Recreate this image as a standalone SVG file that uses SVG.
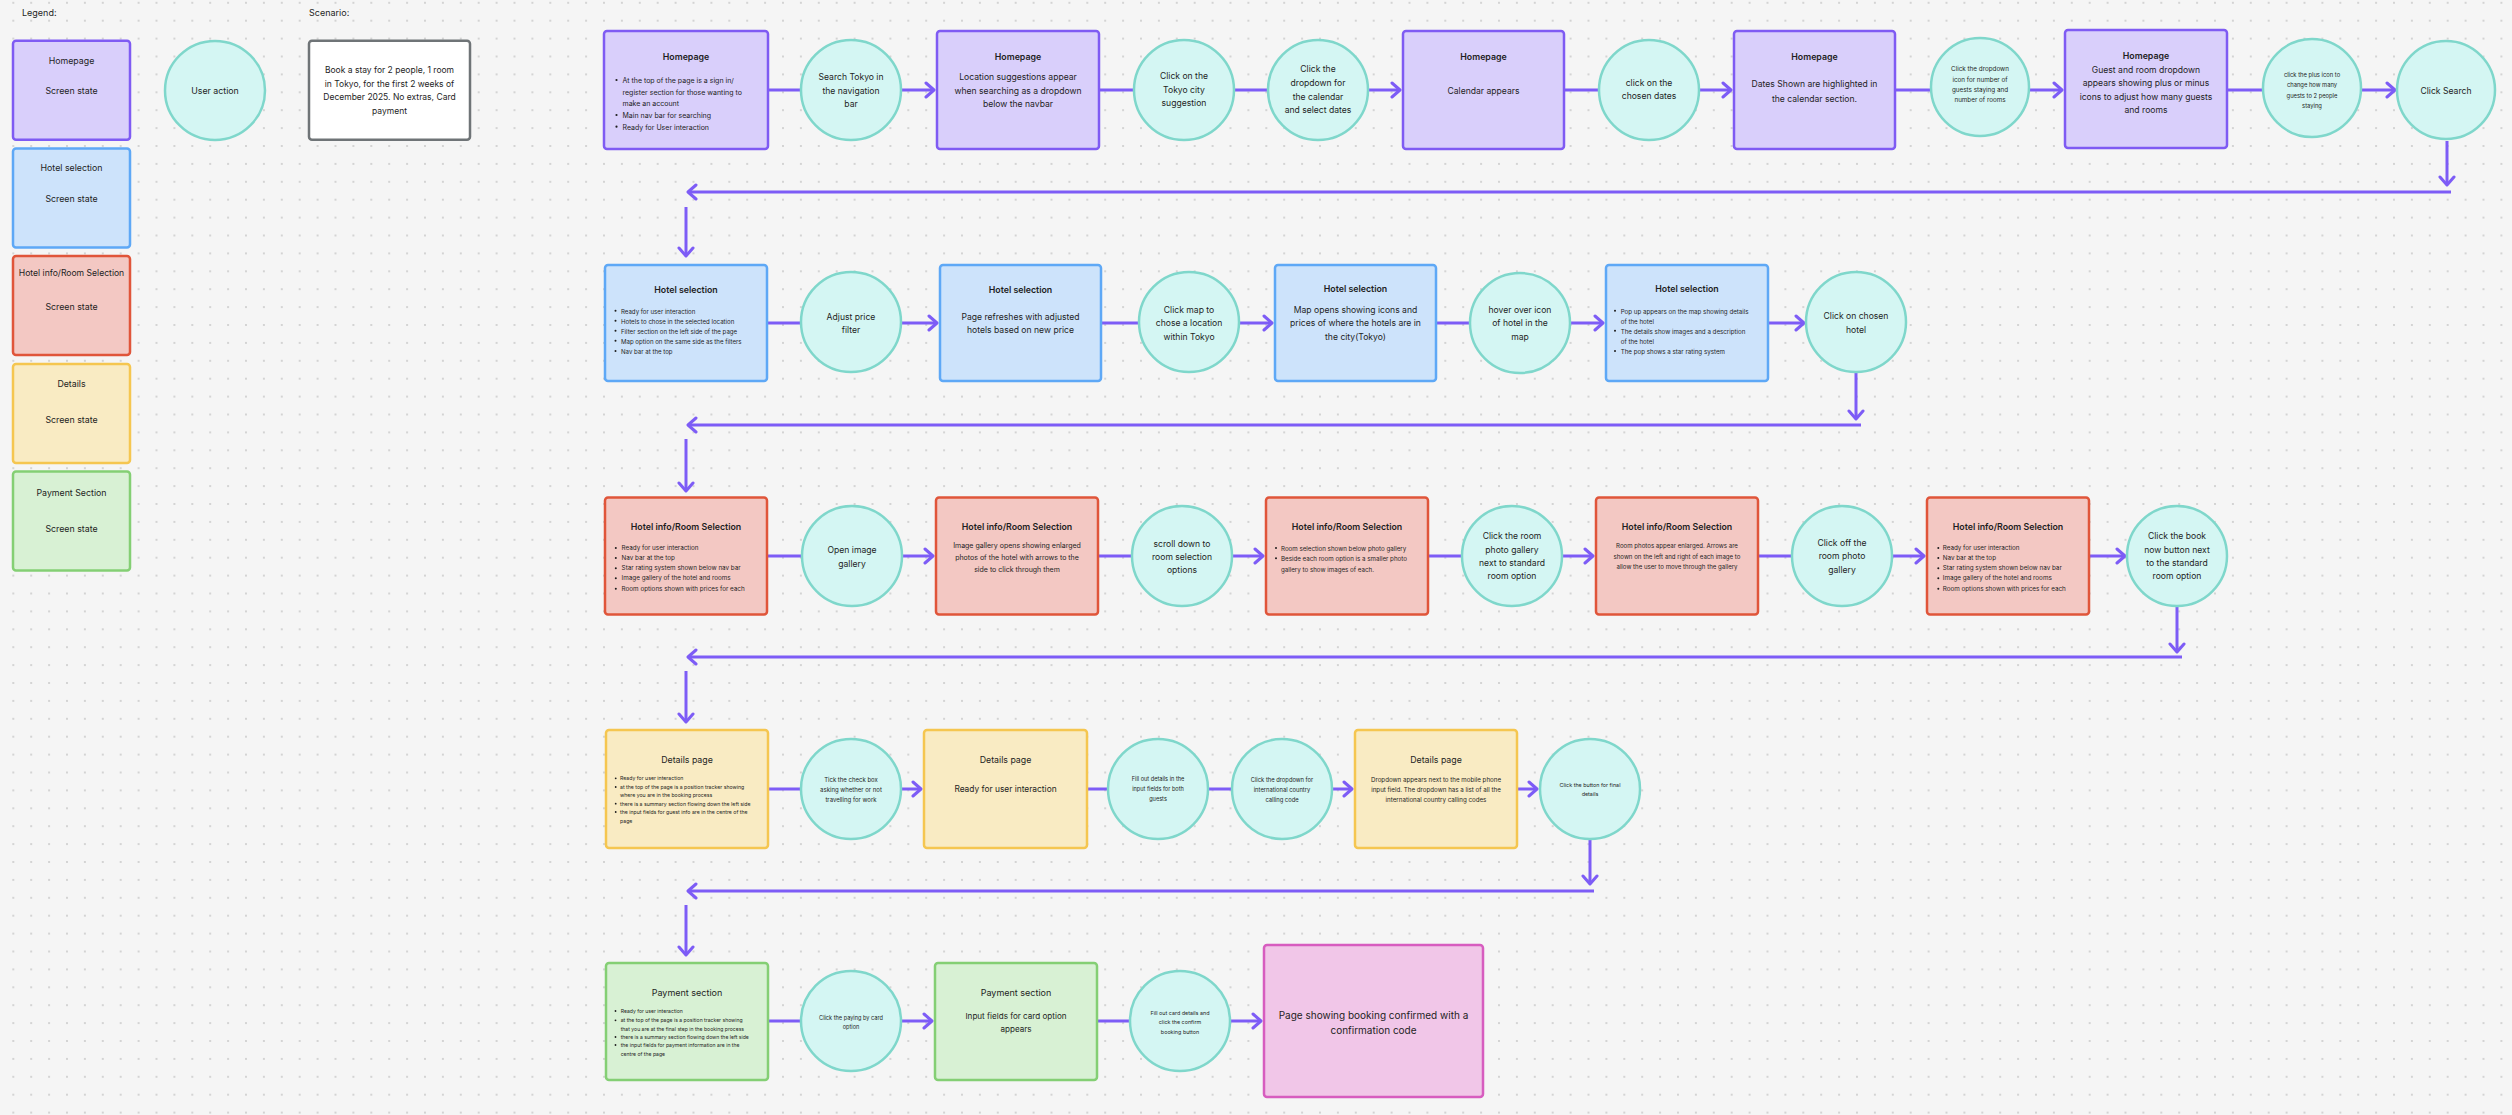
<svg xmlns="http://www.w3.org/2000/svg" width="2512" height="1115" viewBox="0 0 2512 1115">
<defs>
<pattern id="dots" patternUnits="userSpaceOnUse" x="4.35" y="11.75" width="17.9" height="17.9"><circle cx="8.95" cy="8.95" r="0.9" fill="#c4c4c4"/></pattern>
<marker id="ah" markerUnits="userSpaceOnUse" markerWidth="12" markerHeight="18" viewBox="-10 -9 12 18" refX="0" refY="0" orient="auto"><path d="M-8,-7 L0,0 L-8,7" fill="none" stroke="#7d5cf6" stroke-width="3" stroke-linecap="round" stroke-linejoin="round"/></marker>
</defs>
<style>
text{font-family:Inter,"Noto Sans","Liberation Sans",sans-serif;fill:#1e1e1e;dominant-baseline:central}
.c{text-anchor:middle}
.b{font-weight:600}
.hp{fill:#d9cffb;stroke:#7f5bf3;stroke-width:2.5}
.hs{fill:#cde3fb;stroke:#5ea8f6;stroke-width:2.5}
.hi{fill:#f3c8c3;stroke:#e0553a;stroke-width:2.5}
.dt{fill:#f9ebc3;stroke:#f5c650;stroke-width:2.5}
.pm{fill:#d8f1d4;stroke:#84cf74;stroke-width:2.5}
.ua{fill:#d4f6f3;stroke:#7fd7cb;stroke-width:2.5}
.cf{fill:#f1c6e8;stroke:#d75cbf;stroke-width:2.5}
.sc{fill:#ffffff;stroke:#6f7477;stroke-width:2.5}
.con path{stroke:#7d5cf6;stroke-width:3;fill:none}
.bl{fill:#1e1e1e}
</style>
<rect width="2512" height="1115" fill="#f5f5f5"/>
<rect width="2512" height="1115" fill="url(#dots)"/>

<!-- Legend -->
<g id="legend">
<text x="22" y="12" font-size="9">Legend:</text>
<text x="309" y="12" font-size="9">Scenario:</text>
</g>
<g id="legend-homepage"><rect class="hp" x="13" y="40.7" width="117" height="99" rx="3"/><text class="c" x="71.5" y="60.4" font-size="8.8">Homepage</text><text class="c" x="71.5" y="90.7" font-size="8.8">Screen state</text></g>
<g id="legend-hotel-selection"><rect class="hs" x="13" y="148.5" width="117" height="99" rx="3"/><text class="c" x="71.5" y="167.8" font-size="8.8">Hotel selection</text><text class="c" x="71.5" y="198" font-size="8.8">Screen state</text></g>
<g id="legend-hotel-info"><rect class="hi" x="13" y="256" width="117" height="99" rx="3"/><text class="c" x="71.5" y="273.3" font-size="8.6">Hotel info/Room Selection</text><text class="c" x="71.5" y="306" font-size="8.8">Screen state</text></g>
<g id="legend-details"><rect class="dt" x="13" y="364" width="117" height="99" rx="3"/><text class="c" x="71.5" y="383.3" font-size="8.8">Details</text><text class="c" x="71.5" y="419.3" font-size="8.8">Screen state</text></g>
<g id="legend-payment"><rect class="pm" x="13" y="471.5" width="117" height="99" rx="3"/><text class="c" x="71.5" y="492.2" font-size="8.8">Payment Section</text><text class="c" x="71.5" y="528.1" font-size="8.8">Screen state</text></g>
<g id="legend-user-action"><ellipse class="ua" cx="215" cy="90.4" rx="50" ry="49.5"/><text class="c" x="215" y="90.7" font-size="8.8">User action</text></g>
<g id="scenario"><rect class="sc" x="309" y="40.7" width="161" height="99" rx="3"/>
<text class="c" font-size="8.5"><tspan x="389.5" y="70.4">Book a stay for 2 people, 1 room</tspan><tspan x="389.5" y="83.7">in Tokyo, for the first 2 weeks of</tspan><tspan x="389.5" y="97">December 2025. No extras, Card</tspan><tspan x="389.5" y="111.1">payment</tspan></text></g>

<!-- Connectors -->
<g id="connectors" class="con">
<path d="M768,90 H801"/>
<path d="M901,90 H934" marker-end="url(#ah)"/>
<path d="M1099,90 H1134"/>
<path d="M1234,90 H1268"/>
<path d="M1368,90 H1400" marker-end="url(#ah)"/>
<path d="M1564,90 H1599"/>
<path d="M1699,90 H1731" marker-end="url(#ah)"/>
<path d="M1895,90 H1931"/>
<path d="M2029,90 H2062" marker-end="url(#ah)"/>
<path d="M2227,90 H2263"/>
<path d="M2361,90 H2395" marker-end="url(#ah)"/>
<path d="M767,323 H801"/>
<path d="M902,323 H937" marker-end="url(#ah)"/>
<path d="M1101,323 H1139"/>
<path d="M1239,323 H1272" marker-end="url(#ah)"/>
<path d="M1436,323 H1470"/>
<path d="M1570,323 H1603" marker-end="url(#ah)"/>
<path d="M1768,323 H1804" marker-end="url(#ah)"/>
<path d="M767,556 H802"/>
<path d="M902,556 H933" marker-end="url(#ah)"/>
<path d="M1098,556 H1132"/>
<path d="M1232,556 H1263" marker-end="url(#ah)"/>
<path d="M1428,556 H1462"/>
<path d="M1562,556 H1593" marker-end="url(#ah)"/>
<path d="M1758,556 H1792"/>
<path d="M1892,556 H1924" marker-end="url(#ah)"/>
<path d="M2089,556 H2125" marker-end="url(#ah)"/>
<path d="M768,789 H801"/>
<path d="M901,789 H921" marker-end="url(#ah)"/>
<path d="M1087,789 H1108"/>
<path d="M1208,789 H1232"/>
<path d="M1332,789 H1352" marker-end="url(#ah)"/>
<path d="M1517,789 H1537" marker-end="url(#ah)"/>
<path d="M768,1021 H801"/>
<path d="M901,1021 H932" marker-end="url(#ah)"/>
<path d="M1097,1021 H1130"/>
<path d="M1230,1021 H1261" marker-end="url(#ah)"/>
<path d="M2447,141 V185" marker-end="url(#ah)"/>
<path d="M2451,192 H688" marker-end="url(#ah)"/>
<path d="M686,207 V256" marker-end="url(#ah)"/>
<path d="M1856,373 V419" marker-end="url(#ah)"/>
<path d="M1861,425 H688" marker-end="url(#ah)"/>
<path d="M686,439 V491" marker-end="url(#ah)"/>
<path d="M2177,607 V652" marker-end="url(#ah)"/>
<path d="M2182,657 H688" marker-end="url(#ah)"/>
<path d="M686,671 V722" marker-end="url(#ah)"/>
<path d="M1590,840 V884" marker-end="url(#ah)"/>
<path d="M1594,891 H688" marker-end="url(#ah)"/>
<path d="M686,905 V955" marker-end="url(#ah)"/>
</g>

<!-- Row 1 -->
<g id="hp1"><rect class="hp" x="604" y="31" width="164" height="118" rx="3"/>
<text class="c b" x="686" y="56" font-size="8.8">Homepage</text>
<circle class="bl" cx="616.5" cy="80" r="1.1"/><circle class="bl" cx="616.5" cy="115" r="1.1"/><circle class="bl" cx="616.5" cy="126.7" r="1.1"/>
<text font-size="7"><tspan x="622.5" y="80">At the top of the page is a sign in/</tspan><tspan x="622.5" y="91.7">register section for those wanting to</tspan><tspan x="622.5" y="103">make an account</tspan><tspan x="622.5" y="115">Main nav bar for searching</tspan><tspan x="622.5" y="126.7">Ready for User interaction</tspan></text></g>
<g id="a1"><circle class="ua" cx="851" cy="90" r="50"/>
<text class="c" font-size="8.6"><tspan x="851" y="77.3">Search Tokyo in</tspan><tspan x="851" y="90.7">the navigation</tspan><tspan x="851" y="104">bar</tspan></text></g>
<g id="hp2"><rect class="hp" x="937" y="31" width="162" height="118" rx="3"/>
<text class="c b" x="1018" y="56" font-size="8.8">Homepage</text>
<text class="c" font-size="8.6"><tspan x="1018" y="77.3">Location suggestions appear</tspan><tspan x="1018" y="90.7">when searching as a dropdown</tspan><tspan x="1018" y="104">below the navbar</tspan></text></g>
<g id="a2"><circle class="ua" cx="1184" cy="90" r="50"/>
<text class="c" font-size="8.6"><tspan x="1184" y="76">Click on the</tspan><tspan x="1184" y="90">Tokyo city</tspan><tspan x="1184" y="103">suggestion</tspan></text></g>
<g id="a3"><circle class="ua" cx="1318" cy="90" r="50"/>
<text class="c" font-size="8.6"><tspan x="1318" y="69.3">Click the</tspan><tspan x="1318" y="83">dropdown for</tspan><tspan x="1318" y="96.7">the calendar</tspan><tspan x="1318" y="110">and select dates</tspan></text></g>
<g id="hp3"><rect class="hp" x="1403" y="31" width="161" height="118" rx="3"/>
<text class="c b" x="1483.5" y="56" font-size="8.8">Homepage</text>
<text class="c" x="1483.5" y="91" font-size="8.6">Calendar appears</text></g>
<g id="a4"><circle class="ua" cx="1649" cy="90" r="50"/>
<text class="c" font-size="8.6"><tspan x="1649" y="83">click on the</tspan><tspan x="1649" y="96.3">chosen dates</tspan></text></g>
<g id="hp4"><rect class="hp" x="1734" y="31" width="161" height="118" rx="3"/>
<text class="c b" x="1814.5" y="56" font-size="8.8">Homepage</text>
<text class="c" font-size="8.6"><tspan x="1814.5" y="84">Dates Shown are highlighted in</tspan><tspan x="1814.5" y="98.7">the calendar section.</tspan></text></g>
<g id="a5"><circle class="ua" cx="1980" cy="87" r="49"/>
<text class="c" font-size="6.3"><tspan x="1980" y="69.3">Click the dropdown</tspan><tspan x="1980" y="80.3">icon for number of</tspan><tspan x="1980" y="90.3">guests staying and</tspan><tspan x="1980" y="100">number of rooms</tspan></text></g>
<g id="hp5"><rect class="hp" x="2065" y="30" width="162" height="118" rx="3"/>
<text class="c b" x="2146" y="55" font-size="8.8">Homepage</text>
<text class="c" font-size="8.6"><tspan x="2146" y="70">Guest and room dropdown</tspan><tspan x="2146" y="83.3">appears showing plus or minus</tspan><tspan x="2146" y="96.7">icons to adjust how many guests</tspan><tspan x="2146" y="110">and rooms</tspan></text></g>
<g id="a6"><circle class="ua" cx="2312" cy="88" r="49"/>
<text class="c" font-size="5.8"><tspan x="2312" y="74">click the plus icon to</tspan><tspan x="2312" y="84.3">change how many</tspan><tspan x="2312" y="94.7">guests to 2 people</tspan><tspan x="2312" y="105">staying</tspan></text></g>
<g id="a7"><circle class="ua" cx="2446" cy="90" r="49"/>
<text class="c" x="2446" y="90.7" font-size="8.6">Click Search</text></g>

<!-- Row 2 -->
<g id="hs1"><rect class="hs" x="605" y="265" width="162" height="116" rx="3"/>
<text class="c b" x="686" y="289" font-size="8.8">Hotel selection</text>
<circle class="bl" cx="615.5" cy="310.7" r="1"/><circle class="bl" cx="615.5" cy="320.7" r="1"/><circle class="bl" cx="615.5" cy="330.7" r="1"/><circle class="bl" cx="615.5" cy="340.7" r="1"/><circle class="bl" cx="615.5" cy="351" r="1"/>
<text font-size="6.1"><tspan x="621" y="310.7">Ready for user interaction</tspan><tspan x="621" y="320.7">Hotels to chose in the selected location</tspan><tspan x="621" y="330.7">Filter section on the left side of the page</tspan><tspan x="621" y="340.7">Map option on the same side as the filters</tspan><tspan x="621" y="351">Nav bar at the top</tspan></text></g>
<g id="b1"><circle class="ua" cx="851" cy="322" r="50"/>
<text class="c" font-size="8.6"><tspan x="851" y="317">Adjust price</tspan><tspan x="851" y="330.3">filter</tspan></text></g>
<g id="hs2"><rect class="hs" x="940" y="265" width="161" height="116" rx="3"/>
<text class="c b" x="1020.5" y="289" font-size="8.8">Hotel selection</text>
<text class="c" font-size="8.6"><tspan x="1020.5" y="317">Page refreshes with adjusted</tspan><tspan x="1020.5" y="330.3">hotels based on new price</tspan></text></g>
<g id="b2"><circle class="ua" cx="1189" cy="322" r="50"/>
<text class="c" font-size="8.6"><tspan x="1189" y="309.7">Click map to</tspan><tspan x="1189" y="323">chose a location</tspan><tspan x="1189" y="337">within Tokyo</tspan></text></g>
<g id="hs3"><rect class="hs" x="1275" y="265" width="161" height="116" rx="3"/>
<text class="c b" x="1355.5" y="288.3" font-size="8.8">Hotel selection</text>
<text class="c" font-size="8.6"><tspan x="1355.5" y="310.3">Map opens showing icons and</tspan><tspan x="1355.5" y="323">prices of where the hotels are in</tspan><tspan x="1355.5" y="337.3">the city(Tokyo)</tspan></text></g>
<g id="b3"><circle class="ua" cx="1520" cy="323" r="50"/>
<text class="c" font-size="8.6"><tspan x="1520" y="309.7">hover over icon</tspan><tspan x="1520" y="323">of hotel in the</tspan><tspan x="1520" y="337">map</tspan></text></g>
<g id="hs4"><rect class="hs" x="1606" y="265" width="162" height="116" rx="3"/>
<text class="c b" x="1687" y="288.3" font-size="8.8">Hotel selection</text>
<circle class="bl" cx="1615" cy="310.7" r="1"/><circle class="bl" cx="1615" cy="330.7" r="1"/><circle class="bl" cx="1615" cy="351" r="1"/>
<text font-size="6.2"><tspan x="1620.7" y="310.7">Pop up appears on the map showing details</tspan><tspan x="1620.7" y="320.7">of the hotel</tspan><tspan x="1620.7" y="330.7">The details show images and a description</tspan><tspan x="1620.7" y="340.7">of the hotel</tspan><tspan x="1620.7" y="351">The pop shows a star rating system</tspan></text></g>
<g id="b4"><circle class="ua" cx="1856" cy="322" r="50"/>
<text class="c" font-size="8.6"><tspan x="1856" y="316.3">Click on chosen</tspan><tspan x="1856" y="329.7">hotel</tspan></text></g>

<!-- Row 3 -->
<g id="hi1"><rect class="hi" x="605" y="497.5" width="162" height="117" rx="3"/>
<text class="c b" x="686" y="526.3" font-size="8.8">Hotel info/Room Selection</text>
<circle class="bl" cx="615.8" cy="548" r="1"/><circle class="bl" cx="615.8" cy="558" r="1"/><circle class="bl" cx="615.8" cy="568.3" r="1"/><circle class="bl" cx="615.8" cy="578.3" r="1"/><circle class="bl" cx="615.8" cy="588.7" r="1"/>
<text font-size="6.3"><tspan x="621.6" y="548">Ready for user interaction</tspan><tspan x="621.6" y="558">Nav bar at the top</tspan><tspan x="621.6" y="568.3">Star rating system shown below nav bar</tspan><tspan x="621.6" y="578.3">Image gallery of the hotel and rooms</tspan><tspan x="621.6" y="588.7">Room options shown with prices for each</tspan></text></g>
<g id="c1"><circle class="ua" cx="852" cy="556" r="50"/>
<text class="c" font-size="8.6"><tspan x="852" y="550.3">Open image</tspan><tspan x="852" y="563.7">gallery</tspan></text></g>
<g id="hi2"><rect class="hi" x="936" y="497.5" width="162" height="117" rx="3"/>
<text class="c b" x="1017" y="526.3" font-size="8.8">Hotel info/Room Selection</text>
<text class="c" font-size="7"><tspan x="1017" y="545.3">Image gallery opens showing enlarged</tspan><tspan x="1017" y="557">photos of the hotel with arrows to the</tspan><tspan x="1017" y="568.7">side to click through them</tspan></text></g>
<g id="c2"><circle class="ua" cx="1182" cy="556" r="50"/>
<text class="c" font-size="8.6"><tspan x="1182" y="543.7">scroll down to</tspan><tspan x="1182" y="557">room selection</tspan><tspan x="1182" y="570.3">options</tspan></text></g>
<g id="hi3"><rect class="hi" x="1266" y="497.5" width="162" height="117" rx="3"/>
<text class="c b" x="1347" y="526.3" font-size="8.8">Hotel info/Room Selection</text>
<circle class="bl" cx="1276" cy="548" r="1"/><circle class="bl" cx="1276" cy="558.3" r="1"/>
<text font-size="6.2"><tspan x="1281" y="548">Room selection shown below photo gallery</tspan><tspan x="1281" y="558.3">Beside each room option is a smaller photo</tspan><tspan x="1281" y="568.7">gallery to show images of each.</tspan></text></g>
<g id="c3"><circle class="ua" cx="1512" cy="556" r="50"/>
<text class="c" font-size="8.6"><tspan x="1512" y="536.3">Click the room</tspan><tspan x="1512" y="549.7">photo gallery</tspan><tspan x="1512" y="563">next to standard</tspan><tspan x="1512" y="576.3">room option</tspan></text></g>
<g id="hi4"><rect class="hi" x="1596" y="497.5" width="162" height="117" rx="3"/>
<text class="c b" x="1677" y="526.3" font-size="8.8">Hotel info/Room Selection</text>
<text class="c" font-size="6.1"><tspan x="1677" y="545.3">Room photos appear enlarged. Arrows are</tspan><tspan x="1677" y="556">shown on the left and right of each image to</tspan><tspan x="1677" y="566.3">allow the user to move through the gallery</tspan></text></g>
<g id="c4"><circle class="ua" cx="1842" cy="556" r="50"/>
<text class="c" font-size="8.6"><tspan x="1842" y="543">Click off the</tspan><tspan x="1842" y="556.3">room photo</tspan><tspan x="1842" y="570.3">gallery</tspan></text></g>
<g id="hi5"><rect class="hi" x="1927" y="497.5" width="162" height="117" rx="3"/>
<text class="c b" x="2008" y="526.3" font-size="8.8">Hotel info/Room Selection</text>
<circle class="bl" cx="1938.3" cy="548" r="1"/><circle class="bl" cx="1938.3" cy="558" r="1"/><circle class="bl" cx="1938.3" cy="568.3" r="1"/><circle class="bl" cx="1938.3" cy="578.3" r="1"/><circle class="bl" cx="1938.3" cy="588.7" r="1"/>
<text font-size="6.3"><tspan x="1942.7" y="548">Ready for user interaction</tspan><tspan x="1942.7" y="558">Nav bar at the top</tspan><tspan x="1942.7" y="568.3">Star rating system shown below nav bar</tspan><tspan x="1942.7" y="578.3">Image gallery of the hotel and rooms</tspan><tspan x="1942.7" y="588.7">Room options shown with prices for each</tspan></text></g>
<g id="c5"><circle class="ua" cx="2177" cy="556" r="50"/>
<text class="c" font-size="8.6"><tspan x="2177" y="536.3">Click the book</tspan><tspan x="2177" y="549.7">now button next</tspan><tspan x="2177" y="563">to the standard</tspan><tspan x="2177" y="576.3">room option</tspan></text></g>

<!-- Row 4 -->
<g id="dt1"><rect class="dt" x="606" y="730" width="162" height="118" rx="3"/>
<text class="c" x="687" y="759.3" font-size="8.8">Details page</text>
<circle class="bl" cx="615.7" cy="778.3" r="0.9"/><circle class="bl" cx="615.7" cy="787" r="0.9"/><circle class="bl" cx="615.7" cy="803.7" r="0.9"/><circle class="bl" cx="615.7" cy="812" r="0.9"/>
<text font-size="5.2"><tspan x="620" y="778.3">Ready for user interaction</tspan><tspan x="620" y="787">at the top of the page is a position tracker showing</tspan><tspan x="620" y="795.3">where you are in the booking process</tspan><tspan x="620" y="803.7">there is a summary section flowing down the left side</tspan><tspan x="620" y="812">the input fields for guest info are in the centre of the</tspan><tspan x="620" y="820.7">page</tspan></text></g>
<g id="d1"><circle class="ua" cx="851" cy="789" r="50"/>
<text class="c" font-size="6"><tspan x="851" y="779.3">Tick the check box</tspan><tspan x="851" y="789.3">asking whether or not</tspan><tspan x="851" y="799">travelling for work</tspan></text></g>
<g id="dt2"><rect class="dt" x="924" y="730" width="163" height="118" rx="3"/>
<text class="c" x="1005.5" y="759.3" font-size="8.8">Details page</text>
<text class="c" x="1005.5" y="789" font-size="8.4">Ready for user interaction</text></g>
<g id="d2"><circle class="ua" cx="1158" cy="789" r="50"/>
<text class="c" font-size="5.6"><tspan x="1158" y="779.3">Fill out details in the</tspan><tspan x="1158" y="789.3">input fields for both</tspan><tspan x="1158" y="799">guests</tspan></text></g>
<g id="d3"><circle class="ua" cx="1282" cy="789" r="50"/>
<text class="c" font-size="5.8"><tspan x="1282" y="779.3">Click the dropdown for</tspan><tspan x="1282" y="789.3">international country</tspan><tspan x="1282" y="799">calling code</tspan></text></g>
<g id="dt3"><rect class="dt" x="1355" y="730" width="162" height="118" rx="3"/>
<text class="c" x="1436" y="759.3" font-size="8.8">Details page</text>
<text class="c" font-size="6.2"><tspan x="1436" y="779">Dropdown appears next to the mobile phone</tspan><tspan x="1436" y="789">input field. The dropdown has a list of all the</tspan><tspan x="1436" y="799">international country calling codes</tspan></text></g>
<g id="d4"><circle class="ua" cx="1590" cy="789" r="50"/>
<text class="c" font-size="5.4"><tspan x="1590" y="785">Click the button for final</tspan><tspan x="1590" y="794.3">details</tspan></text></g>

<!-- Row 5 -->
<g id="pm1"><rect class="pm" x="606" y="963" width="162" height="117" rx="3"/>
<text class="c" x="687" y="992.3" font-size="9">Payment section</text>
<circle class="bl" cx="615.5" cy="1011" r="0.9"/><circle class="bl" cx="615.5" cy="1020.3" r="0.9"/><circle class="bl" cx="615.5" cy="1037" r="0.9"/><circle class="bl" cx="615.5" cy="1045" r="0.9"/>
<text font-size="5.1"><tspan x="620.7" y="1011">Ready for user interaction</tspan><tspan x="620.7" y="1020.3">at the top of the page is a position tracker showing</tspan><tspan x="620.7" y="1028.7">that you are at the final step in the booking process</tspan><tspan x="620.7" y="1037">there is a summary section flowing down the left side</tspan><tspan x="620.7" y="1045">the input fields for payment information are in the</tspan><tspan x="620.7" y="1053.7">centre of the page</tspan></text></g>
<g id="e1"><circle class="ua" cx="851" cy="1021" r="50"/>
<text class="c" font-size="5.6"><tspan x="851" y="1018">Click the paying by card</tspan><tspan x="851" y="1027.3">option</tspan></text></g>
<g id="pm2"><rect class="pm" x="935" y="963" width="162" height="117" rx="3"/>
<text class="c" x="1016" y="992.3" font-size="9">Payment section</text>
<text class="c" font-size="8.1"><tspan x="1016" y="1016">Input fields for card option</tspan><tspan x="1016" y="1029.3">appears</tspan></text></g>
<g id="e2"><circle class="ua" cx="1180" cy="1021" r="50"/>
<text class="c" font-size="5.4"><tspan x="1180" y="1012.7">Fill out card details and</tspan><tspan x="1180" y="1022">click the confirm</tspan><tspan x="1180" y="1031.7">booking button</tspan></text></g>
<g id="confirm"><rect class="cf" x="1264" y="945" width="219" height="152" rx="3"/>
<text class="c" font-size="10"><tspan x="1373.5" y="1015">Page showing booking confirmed with a</tspan><tspan x="1373.5" y="1030">confirmation code</tspan></text></g>
</svg>
